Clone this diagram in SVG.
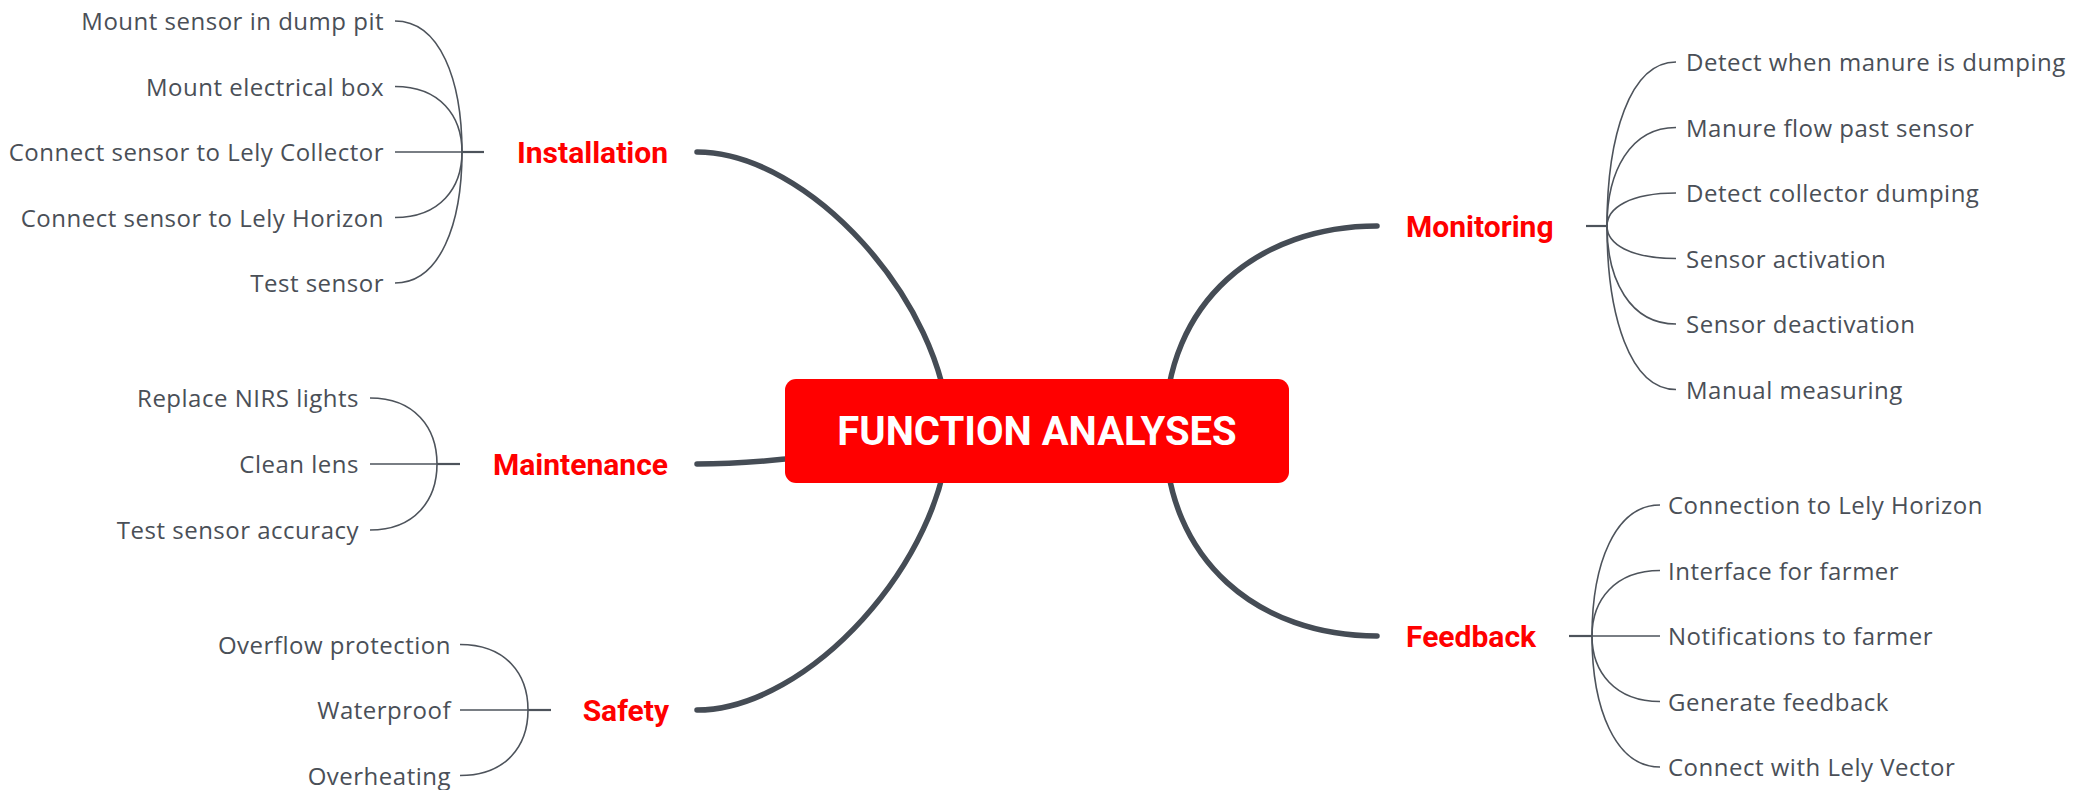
<svg xmlns="http://www.w3.org/2000/svg" width="2096" height="790" viewBox="0 0 2096 790">
<style>
.bg{fill:#ffffff}
.main{fill:none;stroke:#454c55;stroke-width:5.5;stroke-linecap:round}
.thin{fill:none;stroke:#4d535b;stroke-width:1.6}
.stub{fill:none;stroke:#4d535b;stroke-width:2.2}
.leaf{font-family:"Open Sans","Liberation Sans",sans-serif;font-size:24px;fill:#4a4f57;letter-spacing:0.5px}
.l{text-anchor:end}
.r{text-anchor:start}
.branch{font-family:Roboto,"Liberation Sans",sans-serif;font-weight:700;font-size:30px;fill:#ff0000}
.root{fill:#ff0000}
.roottxt{font-family:Roboto,"Liberation Sans",sans-serif;font-weight:700;font-size:40px;fill:#ffffff;text-anchor:middle}
</style>
<rect class="bg" x="0" y="0" width="2096" height="790"/>
<g id="connectors">
  <path class="main" d="M697,152 C808,152 944,301 949,431"/>
  <path class="main" d="M697,464 C800,464 900,440 1037,431"/>
  <path class="main" d="M697,710 C808,710 944,561 949,431"/>
  <path class="main" d="M1377,226 C1260,226 1165,300 1165,431"/>
  <path class="main" d="M1377,636 C1260,636 1165,562 1165,431"/>
  <path class="thin" d="M395,21 C440,21 462,80 462,152"/>
  <path class="thin" d="M395,86.5 C440,86.5 462,116 462,152"/>
  <path class="thin" d="M395,152 L462,152"/>
  <path class="thin" d="M395,217.5 C440,217.5 462,188 462,152"/>
  <path class="thin" d="M395,283 C440,283 462,224 462,152"/>
  <path class="stub" d="M462,152 L484,152"/>
  <path class="thin" d="M370,398 C415,398 437,428 437,464"/>
  <path class="thin" d="M370,464 L437,464"/>
  <path class="thin" d="M370,530 C415,530 437,500 437,464"/>
  <path class="stub" d="M437,464 L460,464"/>
  <path class="thin" d="M460,644.5 C506,644.5 528,674 528,710"/>
  <path class="thin" d="M460,710 L528,710"/>
  <path class="thin" d="M460,775.5 C506,775.5 528,746 528,710"/>
  <path class="stub" d="M528,710 L551,710"/>
  <path class="thin" d="M1676,62 C1630,62 1607,135.8 1607,226"/>
  <path class="thin" d="M1676,127.5 C1630,127.5 1607,171.8 1607,226"/>
  <path class="thin" d="M1676,193 C1630,193 1607,207.9 1607,226"/>
  <path class="thin" d="M1676,258.5 C1630,258.5 1607,243.9 1607,226"/>
  <path class="thin" d="M1676,324 C1630,324 1607,279.9 1607,226"/>
  <path class="thin" d="M1676,389.5 C1630,389.5 1607,315.9 1607,226"/>
  <path class="stub" d="M1586,226 L1607,226"/>
  <path class="thin" d="M1660,505 C1615,505 1592,564 1592,636"/>
  <path class="thin" d="M1660,570.5 C1615,570.5 1592,600 1592,636"/>
  <path class="thin" d="M1660,636 L1592,636"/>
  <path class="thin" d="M1660,701.5 C1615,701.5 1592,672 1592,636"/>
  <path class="thin" d="M1660,767 C1615,767 1592,708 1592,636"/>
  <path class="stub" d="M1569,636 L1592,636"/>
</g>
<g id="root">
  <rect class="root" x="785" y="379" width="504" height="104" rx="11"/>
  <text class="roottxt" x="1037" y="445">FUNCTION ANALYSES</text>
</g>
<g id="installation">
  <text class="branch" x="668" y="162.5" text-anchor="end">Installation</text>
</g>
<g id="inst-1"><text class="leaf l" x="384" y="30">Mount sensor in dump pit</text></g>
<g id="inst-2"><text class="leaf l" x="384" y="95.5">Mount electrical box</text></g>
<g id="inst-3"><text class="leaf l" x="384" y="161">Connect sensor to Lely Collector</text></g>
<g id="inst-4"><text class="leaf l" x="384" y="226.5">Connect sensor to Lely Horizon</text></g>
<g id="inst-5"><text class="leaf l" x="384" y="292">Test sensor</text></g>
<g id="maintenance">
  <text class="branch" x="668" y="474.5" text-anchor="end">Maintenance</text>
</g>
<g id="maint-1"><text class="leaf l" x="359" y="407">Replace NIRS lights</text></g>
<g id="maint-2"><text class="leaf l" x="359" y="473">Clean lens</text></g>
<g id="maint-3"><text class="leaf l" x="359" y="539">Test sensor accuracy</text></g>
<g id="safety">
  <text class="branch" x="669" y="720.5" text-anchor="end">Safety</text>
</g>
<g id="safe-1"><text class="leaf l" x="451" y="653.5">Overflow protection</text></g>
<g id="safe-2"><text class="leaf l" x="451" y="719">Waterproof</text></g>
<g id="safe-3"><text class="leaf l" x="451" y="784.5">Overheating</text></g>
<g id="monitoring">
  <text class="branch" x="1406" y="236.5">Monitoring</text>
</g>
<g id="mon-1"><text class="leaf r" x="1686" y="71">Detect when manure is dumping</text></g>
<g id="mon-2"><text class="leaf r" x="1686" y="136.5">Manure flow past sensor</text></g>
<g id="mon-3"><text class="leaf r" x="1686" y="202">Detect collector dumping</text></g>
<g id="mon-4"><text class="leaf r" x="1686" y="267.5">Sensor activation</text></g>
<g id="mon-5"><text class="leaf r" x="1686" y="333">Sensor deactivation</text></g>
<g id="mon-6"><text class="leaf r" x="1686" y="398.5">Manual measuring</text></g>
<g id="feedback">
  <text class="branch" x="1406" y="646.5">Feedback</text>
</g>
<g id="fb-1"><text class="leaf r" x="1668" y="514">Connection to Lely Horizon</text></g>
<g id="fb-2"><text class="leaf r" x="1668" y="579.5">Interface for farmer</text></g>
<g id="fb-3"><text class="leaf r" x="1668" y="645">Notifications to farmer</text></g>
<g id="fb-4"><text class="leaf r" x="1668" y="710.5">Generate feedback</text></g>
<g id="fb-5"><text class="leaf r" x="1668" y="776">Connect with Lely Vector</text></g>
</svg>
